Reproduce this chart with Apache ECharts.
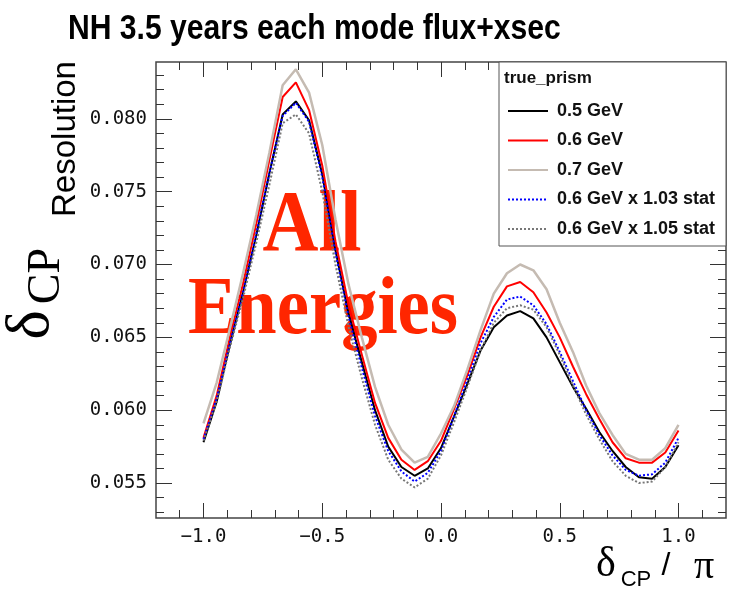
<!DOCTYPE html>
<html>

<head>
	<meta charset="utf-8" />
	<script src="https://cdn.jsdelivr.net/npm/echarts@6.0.0/dist/echarts.min.js"></script>
	<title>NH 3.5 years each mode flux+xsec</title>
</head>

<body style="margin: 0; background-color: #ffffff">
	<div id="main" style="width: 729px; height: 591px;"></div>
</body>

<script type="text/javascript">
	// delta_CP in degrees, one point every 10 degrees
	var deltaDeg = [-180, -170, -160, -150, -140, -130, -120, -110, -100, -90, -80, -70, -60, -50, -40, -30, -20, -10,
		0, 10, 20, 30, 40, 50, 60, 70, 80, 90, 100, 110, 120, 130, 140, 150, 160, 170, 180];

	var res05 = [0.0578, 0.0606, 0.0645, 0.0681, 0.0720, 0.0763, 0.0803, 0.0812, 0.0799, 0.0762, 0.0710, 0.0666, 0.0633,
		0.0600, 0.0575, 0.0561, 0.0555, 0.0560, 0.0574, 0.0596, 0.0618, 0.0641, 0.0657, 0.0665, 0.0668, 0.0663, 0.0650,
		0.0633, 0.0616, 0.0601, 0.0585, 0.0572, 0.0561, 0.0554, 0.0553, 0.0561, 0.0576];
	var res06 = [0.0581, 0.0610, 0.0650, 0.0687, 0.0728, 0.0772, 0.0815, 0.0825, 0.0806, 0.0768, 0.0716, 0.0672, 0.0638,
		0.0605, 0.0581, 0.0566, 0.0559, 0.0565, 0.0579, 0.0601, 0.0624, 0.0650, 0.0671, 0.0685, 0.0688, 0.0681, 0.0667,
		0.0650, 0.0630, 0.0611, 0.0594, 0.0578, 0.0567, 0.0564, 0.0564, 0.0571, 0.0586];
	var res07 = [0.0591, 0.0619, 0.0656, 0.0694, 0.0734, 0.0777, 0.0823, 0.0834, 0.0818, 0.0782, 0.0731, 0.0686, 0.0650,
		0.0616, 0.0590, 0.0573, 0.0564, 0.0568, 0.0584, 0.0603, 0.0628, 0.0655, 0.0680, 0.0694, 0.0700, 0.0696, 0.0683,
		0.0660, 0.0640, 0.0617, 0.0598, 0.0583, 0.0570, 0.0566, 0.0566, 0.0574, 0.0590];
	var res06x103 = [0.0580, 0.0608, 0.0646, 0.0681, 0.0721, 0.0763, 0.0802, 0.0811, 0.0798, 0.0760, 0.0708, 0.0664, 0.0629,
		0.0596, 0.0572, 0.0558, 0.0551, 0.0557, 0.0572, 0.0596, 0.0621, 0.0646, 0.0664, 0.0676, 0.0678, 0.0672, 0.0659,
		0.0640, 0.0620, 0.0600, 0.0583, 0.0569, 0.0559, 0.0555, 0.0556, 0.0564, 0.0581];
	var res06x105 = [0.0579, 0.0606, 0.0643, 0.0677, 0.0715, 0.0755, 0.0797, 0.0803, 0.0790, 0.0750, 0.0700, 0.0657, 0.0622,
		0.0590, 0.0566, 0.0553, 0.0547, 0.0553, 0.0569, 0.0592, 0.0616, 0.0641, 0.0660, 0.0670, 0.0672, 0.0669, 0.0657,
		0.0638, 0.0617, 0.0597, 0.0580, 0.0565, 0.0555, 0.0550, 0.0551, 0.0561, 0.0578];

	var seriesNames = ['0.5 GeV', '0.6 GeV', '0.7 GeV', '0.6 GeV x 1.03 stat', '0.6 GeV x 1.05 stat'];

	var xMajor = [-1.0, -0.5, 0.0, 0.5, 1.0];
	var xMinor = [-1.1, -0.9, -0.8, -0.7, -0.6, -0.4, -0.3, -0.2, -0.1, 0.1, 0.2, 0.3, 0.4, 0.6, 0.7, 0.8, 0.9, 1.1];
	var yMajor = [0.055, 0.060, 0.065, 0.070, 0.075, 0.080];
	var yMinor = [0.053, 0.054, 0.056, 0.057, 0.058, 0.059, 0.061, 0.062, 0.063, 0.064, 0.066, 0.067, 0.068, 0.069,
		0.071, 0.072, 0.073, 0.074, 0.076, 0.077, 0.078, 0.079, 0.081, 0.082, 0.083];

	function pairs(vals) {
		return deltaDeg.map(function (d, i) { return [d / 180, vals[i]]; });
	}

	var tickColor = '#333';
	var monoFont = '"DejaVu Sans Mono", monospace';

	function xAx(grid, pos, ticks, len, labels) {
		return {
			type: 'value', gridIndex: grid, position: pos, min: -1.2, max: 1.2,
			axisLine: { show: false, onZero: false }, splitLine: { show: false },
			axisTick: { inside: true, length: len, customValues: ticks, lineStyle: { color: tickColor, width: 1 } },
			axisLabel: labels ? {
				customValues: ticks, margin: 10, color: '#111', fontFamily: monoFont, fontSize: 19,
				formatter: function (v) { return v.toFixed(1).replace('-', '\u2212'); }
			} : { show: false }
		};
	}
	function yAx(grid, pos, ticks, len, labels) {
		return {
			type: 'value', gridIndex: grid, position: pos, min: 0.0526, max: 0.0839,
			axisLine: { show: false, onZero: false }, splitLine: { show: false },
			axisTick: { inside: true, length: len, customValues: ticks, lineStyle: { color: tickColor, width: 1 } },
			axisLabel: labels ? {
				customValues: ticks, margin: 9, color: '#111', fontFamily: monoFont, fontSize: 19,
				formatter: function (v) { return v.toFixed(3); }
			} : { show: false }
		};
	}

	var myChart = echarts.init(document.getElementById('main'));

	var gridBox = { left: 156, right: 3, top: 62, bottom: 73 };

	var option = {
		backgroundColor: '#ffffff',
		animation: false,
		grid: [
			Object.assign({ show: true, borderColor: '#444', borderWidth: 1.5, backgroundColor: 'transparent' }, gridBox),
			Object.assign({ show: false }, gridBox)
		],
		xAxis: [
			xAx(0, 'bottom', xMajor, 15, true),
			xAx(0, 'top', xMajor, 15, false),
			xAx(1, 'bottom', xMinor, 8, false),
			xAx(1, 'top', xMinor, 8, false)
		],
		yAxis: [
			yAx(0, 'left', yMajor, 16, true),
			yAx(0, 'right', yMajor, 16, false),
			yAx(1, 'left', yMinor, 8, false),
			yAx(1, 'right', yMinor, 8, false)
		],
		legend: {
			orient: 'vertical',
			left: 507,
			top: 102,
			padding: 0,
			itemWidth: 40,
			itemHeight: 18,
			itemGap: 11.5,
			z: 10,
			itemStyle: { color: 'transparent', borderColor: 'transparent', borderWidth: 0 },
			textStyle: { fontFamily: '"Liberation Sans", Arial', fontWeight: 'bold', fontSize: 18, lineHeight: 18, color: '#111', padding: [0, 0, 0, 4] },
			data: seriesNames
		},
		graphic: [
			{
				type: 'rect', z: 1,
				shape: { x: 499, y: 62, width: 227, height: 184 },
				style: { fill: '#ffffff', stroke: '#555', lineWidth: 1 }
			},
			{
				type: 'text', x: 504, y: 78, z: 11,
				style: { text: 'true_prism', font: 'bold 17px "Liberation Sans"', fill: '#111', verticalAlign: 'middle' }
			},
			{
				type: 'text', x: 68, y: 29, scaleX: 0.86,
				style: { text: 'NH 3.5 years each mode flux+xsec', font: 'bold 35px "Liberation Sans"', fill: '#000', verticalAlign: 'middle' }
			},
			{
				type: 'text', x: 312, y: 228, z: 1, scaleX: 0.9,
				style: { text: 'All', font: 'bold 86px "Liberation Serif"', fill: '#ff2600', align: 'center', verticalAlign: 'middle' }
			},
			{
				type: 'text', x: 323, y: 312, z: 1, scaleX: 0.885,
				style: { text: 'Energies', font: 'bold 82px "Liberation Serif"', fill: '#ff2600', align: 'center', verticalAlign: 'middle' }
			},
			{
				type: 'text', x: 66, y: 139, rotation: Math.PI / 2,
				style: { text: 'Resolution', font: '33px "Liberation Sans"', fill: '#000', align: 'center', verticalAlign: 'middle' }
			},
			{
				type: 'text', x: 47, y: 276, rotation: Math.PI / 2,
				style: { text: 'CP', font: '46px "Liberation Serif"', fill: '#000', align: 'center', verticalAlign: 'middle' }
			},
			{
				type: 'text', x: 32, y: 325, rotation: Math.PI / 2,
				style: { text: '\u03b4', font: '62px "Liberation Serif"', fill: '#000', align: 'center', verticalAlign: 'middle' }
			},
			{
				type: 'text', x: 606, y: 565,
				style: { text: '\u03b4', font: '42px "Liberation Serif"', fill: '#000', align: 'center', verticalAlign: 'middle' }
			},
			{
				type: 'text', x: 636, y: 580,
				style: { text: 'CP', font: '22px "Liberation Sans"', fill: '#000', align: 'center', verticalAlign: 'middle' }
			},
			{
				type: 'text', x: 666, y: 566,
				style: { text: '/', font: '32px "Liberation Sans"', fill: '#000', align: 'center', verticalAlign: 'middle' }
			},
			{
				type: 'text', x: 704, y: 567,
				style: { text: '\u03c0', font: '40px "Liberation Serif"', fill: '#000', align: 'center', verticalAlign: 'middle' }
			}
		],
		series: [
			{ name: seriesNames[0], type: 'line', symbol: 'none', data: pairs(res05), lineStyle: { color: '#000000', width: 2 }, itemStyle: { color: '#000000' } },
			{ name: seriesNames[1], type: 'line', symbol: 'none', data: pairs(res06), lineStyle: { color: '#ff0000', width: 2 }, itemStyle: { color: '#ff0000' } },
			{ name: seriesNames[2], type: 'line', symbol: 'none', data: pairs(res07), lineStyle: { color: '#c5bbb2', width: 2.5 }, itemStyle: { color: '#c5bbb2' } },
			{ name: seriesNames[3], type: 'line', symbol: 'none', data: pairs(res06x103), lineStyle: { color: '#0000ff', width: 2, type: [2, 2] }, itemStyle: { color: '#0000ff' } },
			{ name: seriesNames[4], type: 'line', symbol: 'none', data: pairs(res06x105), lineStyle: { color: '#777777', width: 2, type: [2, 2] }, itemStyle: { color: '#777777' } }
		]
	};

	myChart.setOption(option);
</script>

</html>
